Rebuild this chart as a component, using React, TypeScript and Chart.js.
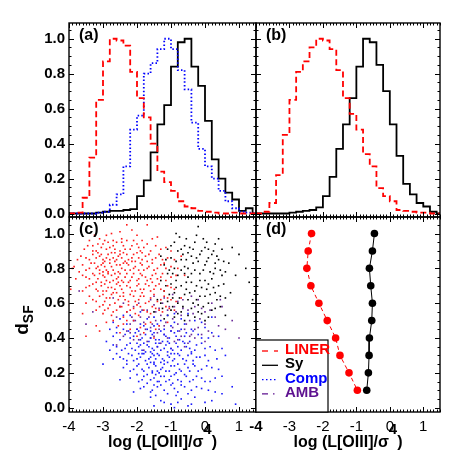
import React, { useEffect, useRef } from 'react';
import { Chart, registerables } from 'chart.js';
Chart.register(...registerables);

const FONT = '"Liberation Sans", Arial, Helvetica, sans-serif';

// ---------- axes ----------
const X_MIN = -4;
const X_MAX = 1.5;
const X_TICKS = [-4, -3, -2, -1, 0, 1];
const Y_TICKS = [0, 0.2, 0.4, 0.6, 0.8, 1.0];
const Y_RANGE_TOP = [-0.02, 1.09];
const Y_RANGE_BOTTOM = [-0.025, 1.095];
const X_TITLE_PARTS = ['log (L[OIII]/\u03c3', '4', ')'];
const Y_TITLE_PARTS = ['d', 'SF'];
const PANEL_LABELS = ['(a)', '(b)', '(c)', '(d)'];

// ---------- series ----------
const SERIES_NAMES = ['LINER', 'Sy', 'Comp', 'AMB'];

// histogram bin edges (log L[OIII]/sigma^4)
const HIST_EDGES = [-4.0, -3.8, -3.6, -3.4, -3.2, -3.0, -2.8, -2.6, -2.4, -2.2, -2.0, -1.8, -1.6, -1.4, -1.2, -1.0,
  -0.8, -0.6, -0.4, -0.2, 0.0, 0.2, 0.4, 0.6, 0.8, 1.0, 1.2, 1.4, 1.6];

// panel (a)
const A_LINER = [0, 0.005, 0.09, 0.32, 0.65, 0.87, 1.0, 0.99, 0.96, 0.81, 0.66, 0.55, 0.40, 0.24, 0.18, 0.13,
  0.07, 0.04, 0.03, 0.015, 0.01, 0.005, 0, 0, 0.005, 0, 0, 0];
const A_COMP = [0, 0, 0, 0, 0.005, 0.01, 0.05, 0.11, 0.27, 0.48, 0.56, 0.80, 0.86, 0.94, 1.0, 0.94,
  0.82, 0.71, 0.52, 0.37, 0.27, 0.20, 0.13, 0.07, 0.03, 0.01, 0.005, 0];
const A_SY = [0, 0, 0, 0, 0.005, 0.01, 0.015, 0.015, 0.02, 0.025, 0.10, 0.19, 0.35, 0.51, 0.62, 0.84,
  0.98, 1.0, 0.84, 0.73, 0.53, 0.31, 0.20, 0.12, 0.08, 0.015, 0.03, 0];

// panel (b)
const B_LINER = [0, 0.01, 0.06, 0.22, 0.45, 0.65, 0.81, 0.87, 0.95, 1.0, 0.99, 0.94, 0.82, 0.66, 0.57, 0.48,
  0.34, 0.27, 0.145, 0.10, 0.07, 0.02, 0.015, 0.01, 0.005, 0.005, 0, 0];
const B_SY = [0, 0, 0, 0, 0, 0.005, 0.01, 0.015, 0.02, 0.035, 0.10, 0.21, 0.37, 0.51, 0.66, 0.84,
  1.0, 0.98, 0.85, 0.70, 0.51, 0.33, 0.17, 0.11, 0.06, 0.04, 0.01, 0];

// panel (c) scatter [x, y]
const C_LINER = [
  [-2.3, 1.05], [-1.7, 1.05], [-2.9, 0.99], [-2.5, 1.01], [-2.0, 0.99], [-3.1, 0.97], [-1.4, 0.98], [-2.7, 0.96],
  [-3.3, 0.93], [-3.0, 0.94], [-2.8, 0.92], [-2.6, 0.95], [-2.4, 0.93], [-2.2, 0.91], [-2.0, 0.94], [-1.8, 0.92],
  [-1.6, 0.90], [-3.2, 0.90], [-2.9, 0.91], [-2.5, 0.90], [-2.3, 0.96], [-1.9, 0.90], [-1.3, 0.91], [-3.4, 0.96],
  [-2.7, 0.93], [-2.1, 0.96], [-3.5, 0.86], [-3.3, 0.88], [-3.1, 0.87], [-3.0, 0.85], [-2.85, 0.88], [-2.7, 0.86],
  [-2.55, 0.87], [-2.4, 0.89], [-2.25, 0.85], [-2.1, 0.88], [-1.95, 0.86], [-1.75, 0.87], [-1.55, 0.85], [-1.35, 0.88],
  [-1.1, 0.86], [-3.15, 0.89], [-2.95, 0.84], [-2.65, 0.89], [-2.35, 0.84], [-2.05, 0.84], [-1.85, 0.89], [-0.9, 0.85],
  [-3.9, 0.80], [-3.6, 0.82], [-3.4, 0.80], [-3.25, 0.83], [-3.1, 0.79], [-2.95, 0.81], [-2.8, 0.83], [-2.7, 0.79],
  [-2.6, 0.82], [-2.45, 0.80], [-2.3, 0.83], [-2.2, 0.79], [-2.05, 0.81], [-1.9, 0.83], [-1.8, 0.79], [-1.65, 0.81],
  [-1.5, 0.79], [-1.3, 0.82], [-1.15, 0.80], [-3.0, 0.78], [-2.55, 0.78], [-2.15, 0.84], [-1.7, 0.84], [-0.8, 0.80],
  [-3.7, 0.78], [-3.5, 0.75], [-3.3, 0.77], [-3.15, 0.74], [-3.0, 0.76], [-2.9, 0.73], [-2.75, 0.76], [-2.6, 0.74],
  [-2.5, 0.77], [-2.35, 0.75], [-2.2, 0.73], [-2.1, 0.77], [-1.95, 0.74], [-1.85, 0.76], [-1.7, 0.73], [-1.55, 0.76],
  [-1.4, 0.74], [-1.25, 0.77], [-1.0, 0.75], [-2.8, 0.72], [-2.4, 0.72], [-3.05, 0.72], [-0.6, 0.76], [-3.8, 0.74],
  [-3.4, 0.70], [-3.2, 0.68], [-3.05, 0.70], [-2.9, 0.67], [-2.75, 0.69], [-2.6, 0.71], [-2.45, 0.68], [-2.3, 0.70],
  [-2.15, 0.67], [-2.0, 0.70], [-1.9, 0.68], [-1.75, 0.71], [-1.6, 0.67], [-1.45, 0.70], [-1.3, 0.68], [-1.1, 0.70],
  [-2.7, 0.66], [-2.25, 0.72], [-1.55, 0.72], [-0.9, 0.68], [-3.6, 0.67], [-3.3, 0.62], [-3.1, 0.64], [-2.95, 0.61],
  [-2.8, 0.63], [-2.65, 0.60], [-2.5, 0.64], [-2.35, 0.62], [-2.2, 0.65], [-2.05, 0.61], [-1.9, 0.64], [-1.75, 0.60],
  [-1.6, 0.63], [-1.4, 0.61], [-1.2, 0.64], [-1.0, 0.62], [-2.6, 0.66], [-1.85, 0.66], [-3.5, 0.60], [-0.7, 0.63],
  [-3.2, 0.56], [-3.0, 0.54], [-2.85, 0.57], [-2.7, 0.55], [-2.5, 0.58], [-2.3, 0.55], [-2.1, 0.57], [-1.95, 0.53],
  [-1.8, 0.56], [-1.6, 0.54], [-1.45, 0.57], [-1.25, 0.55], [-1.05, 0.57], [-2.4, 0.52], [-2.0, 0.59], [-3.0, 0.59],
  [-3.2, 0.47], [-2.7, 0.50], [-2.4, 0.48], [-2.1, 0.50], [-1.9, 0.46], [-1.6, 0.49], [-1.35, 0.47], [-1.1, 0.49],
  [-2.2, 0.45], [-2.0, 0.41], [-1.5, 0.40], [-3.5, 0.41], [-3.85, 0.81], [-3.45, 0.93],
  [-3.25, 0.99], [-2.75, 1.0], [-2.15, 1.02], [-1.55, 0.97], [-1.85, 0.96], [-2.45, 0.97],
  [-3.55, 0.91], [-3.05, 0.92], [-2.85, 0.95], [-2.65, 0.91], [-2.45, 0.95], [-2.15, 0.93], [-1.95, 0.92], [-1.7, 0.94],
  [-1.45, 0.93], [-1.15, 0.92], [-2.35, 0.91], [-2.95, 0.96], [-3.15, 0.94],
  [-3.65, 0.87], [-3.4, 0.85], [-3.2, 0.86], [-3.05, 0.88], [-2.9, 0.86], [-2.75, 0.89], [-2.6, 0.85], [-2.45, 0.86],
  [-2.3, 0.88], [-2.15, 0.86], [-2.0, 0.89], [-1.85, 0.85], [-1.65, 0.88], [-1.45, 0.86], [-1.25, 0.85], [-2.8, 0.85],
  [-2.5, 0.88], [-3.3, 0.90],
  [-3.5, 0.79], [-3.35, 0.83], [-3.2, 0.80], [-3.05, 0.82], [-2.9, 0.79], [-2.75, 0.81], [-2.65, 0.84], [-2.5, 0.82],
  [-2.35, 0.79], [-2.25, 0.82], [-2.1, 0.80], [-1.95, 0.79], [-1.85, 0.82], [-1.7, 0.80], [-1.55, 0.83], [-1.4, 0.80],
  [-1.2, 0.83], [-1.0, 0.81], [-2.85, 0.78], [-2.4, 0.83], [-3.0, 0.83], [-3.15, 0.81],
  [-3.6, 0.76], [-3.4, 0.74], [-3.25, 0.76], [-3.1, 0.77], [-2.95, 0.75], [-2.85, 0.77], [-2.7, 0.73], [-2.55, 0.75],
  [-2.45, 0.73], [-2.3, 0.77], [-2.15, 0.75], [-2.0, 0.73], [-1.9, 0.77], [-1.75, 0.75], [-1.6, 0.74], [-1.45, 0.77],
  [-1.3, 0.75], [-1.15, 0.73], [-0.85, 0.76], [-2.65, 0.77], [-3.2, 0.72],
  [-3.5, 0.69], [-3.3, 0.71], [-3.15, 0.67], [-2.95, 0.71], [-2.85, 0.69], [-2.65, 0.68], [-2.5, 0.70], [-2.4, 0.66],
  [-2.2, 0.69], [-2.05, 0.67], [-1.95, 0.71], [-1.8, 0.68], [-1.65, 0.70], [-1.5, 0.68], [-1.35, 0.71], [-1.2, 0.67],
  [-1.0, 0.69], [-2.55, 0.72], [-3.0, 0.67],
  [-3.4, 0.64], [-3.2, 0.61], [-3.0, 0.65], [-2.9, 0.63], [-2.75, 0.65], [-2.55, 0.62], [-2.4, 0.64], [-2.25, 0.61],
  [-2.1, 0.64], [-1.95, 0.62], [-1.8, 0.64], [-1.65, 0.61], [-1.5, 0.65], [-1.3, 0.62], [-1.1, 0.63], [-0.85, 0.61],
  [-3.1, 0.58], [-2.95, 0.56], [-2.8, 0.59], [-2.6, 0.56], [-2.45, 0.58], [-2.2, 0.56], [-2.05, 0.54], [-1.9, 0.58],
  [-1.7, 0.55], [-1.55, 0.58], [-1.35, 0.56], [-1.15, 0.58], [-2.75, 0.53], [-2.25, 0.59], [-0.9, 0.56],
  [-2.9, 0.49], [-2.55, 0.47], [-2.3, 0.50], [-1.75, 0.48], [-1.45, 0.45], [-2.5, 0.43], [-3.1, 0.44], [-1.8, 0.43],
  [-3.95, 0.68], [-3.75, 0.85], [-3.6, 0.54], [-1.0, 0.90], [-0.7, 0.87],
];
const C_COMP = [
  [-2.4, 0.53], [-1.9, 0.55], [-1.5, 0.52], [-0.9, 0.54], [-0.3, 0.50], [-2.1, 0.50], [0.2, 0.52],
  [-2.6, 0.46], [-2.3, 0.48], [-2.0, 0.45], [-1.8, 0.47], [-1.6, 0.44], [-1.4, 0.48], [-1.2, 0.45], [-1.0, 0.47],
  [-0.8, 0.44], [-0.6, 0.48], [-0.4, 0.45], [0.0, 0.46], [-2.8, 0.45],
  [-2.7, 0.41], [-2.5, 0.39], [-2.35, 0.42], [-2.2, 0.40], [-2.05, 0.43], [-1.9, 0.39], [-1.75, 0.42], [-1.6, 0.40],
  [-1.5, 0.43], [-1.35, 0.39], [-1.2, 0.42], [-1.05, 0.40], [-0.9, 0.43], [-0.75, 0.39], [-0.6, 0.41], [-0.45, 0.38],
  [-0.2, 0.42], [0.1, 0.40], [-2.9, 0.38], [-1.65, 0.38], [-1.1, 0.38], [0.4, 0.41],
  [-2.6, 0.35], [-2.45, 0.33], [-2.3, 0.36], [-2.15, 0.34], [-2.0, 0.37], [-1.85, 0.33], [-1.7, 0.36], [-1.55, 0.34],
  [-1.45, 0.37], [-1.3, 0.33], [-1.15, 0.36], [-1.0, 0.34], [-0.85, 0.37], [-0.7, 0.33], [-0.55, 0.35], [-0.4, 0.32],
  [-0.25, 0.36], [0.0, 0.34], [-1.9, 0.36], [-1.4, 0.35], [-1.6, 0.32], [0.3, 0.33], [-2.8, 0.33],
  [-2.5, 0.29], [-2.3, 0.27], [-2.15, 0.30], [-2.0, 0.28], [-1.85, 0.31], [-1.75, 0.27], [-1.6, 0.29], [-1.5, 0.26],
  [-1.4, 0.31], [-1.25, 0.28], [-1.1, 0.30], [-0.95, 0.27], [-0.8, 0.31], [-0.65, 0.28], [-0.5, 0.30], [-0.35, 0.27],
  [-0.15, 0.29], [0.1, 0.27], [-1.3, 0.26], [-1.95, 0.31], [-0.9, 0.31], [-2.7, 0.28],
  [-2.4, 0.23], [-2.2, 0.21], [-2.0, 0.24], [-1.85, 0.22], [-1.7, 0.25], [-1.55, 0.21], [-1.45, 0.24], [-1.3, 0.22],
  [-1.2, 0.25], [-1.05, 0.21], [-0.9, 0.24], [-0.75, 0.22], [-0.6, 0.25], [-0.45, 0.21], [-0.3, 0.24], [-0.1, 0.22],
  [0.2, 0.23], [-1.35, 0.20], [-1.6, 0.26], [-0.85, 0.20],
  [-2.2, 0.17], [-1.95, 0.15], [-1.8, 0.18], [-1.6, 0.16], [-1.45, 0.19], [-1.35, 0.15], [-1.2, 0.18], [-1.05, 0.16],
  [-0.9, 0.19], [-0.7, 0.15], [-0.55, 0.18], [-0.35, 0.16], [-0.1, 0.17], [0.15, 0.15], [-1.7, 0.14], [0.5, 0.18],
  [-2.5, 0.16], [-1.9, 0.11], [-1.6, 0.09], [-1.4, 0.12], [-1.2, 0.10], [-1.0, 0.13], [-0.8, 0.09], [-0.6, 0.12],
  [-0.4, 0.10], [-0.1, 0.11], [0.3, 0.09], [-1.5, 0.13], [-2.1, 0.09],
  [-1.3, 0.04], [-1.0, 0.02], [-0.7, 0.05], [-0.5, 0.01], [-1.6, 0.06], [0.0, 0.03], [-0.3, 0.06], [0.9, 0.02],
  [-0.9, 0.0], [0.8, 0.12], [0.6, 0.30], [-3.0, 0.25],
  [-2.5, 0.51], [-2.2, 0.53], [-1.7, 0.51], [-1.3, 0.50], [-1.1, 0.53], [-0.7, 0.51], [-0.5, 0.54], [-0.1, 0.49],
  [-1.9, 0.48], [-1.5, 0.47], [-0.9, 0.49], [-2.7, 0.49],
  [-2.6, 0.43], [-2.4, 0.45], [-2.25, 0.44], [-2.1, 0.41], [-1.95, 0.44], [-1.85, 0.40], [-1.7, 0.45], [-1.55, 0.42],
  [-1.45, 0.39], [-1.3, 0.44], [-1.15, 0.41], [-1.0, 0.44], [-0.85, 0.41], [-0.7, 0.45], [-0.55, 0.43], [-0.35, 0.44],
  [-0.1, 0.40], [0.2, 0.43], [-1.25, 0.38], [-0.65, 0.38],
  [-2.7, 0.36], [-2.35, 0.34], [-2.2, 0.37], [-2.05, 0.33], [-1.95, 0.35], [-1.8, 0.37], [-1.65, 0.35], [-1.5, 0.33],
  [-1.35, 0.37], [-1.2, 0.34], [-1.05, 0.37], [-0.95, 0.33], [-0.8, 0.35], [-0.6, 0.37], [-0.45, 0.34], [-0.3, 0.33],
  [-0.1, 0.37], [0.15, 0.35], [0.5, 0.34], [-1.75, 0.32], [-1.1, 0.32],
  [-2.6, 0.31], [-2.4, 0.28], [-2.25, 0.31], [-2.1, 0.27], [-1.9, 0.29], [-1.8, 0.31], [-1.65, 0.28], [-1.55, 0.31],
  [-1.45, 0.28], [-1.35, 0.30], [-1.2, 0.27], [-1.05, 0.29], [-0.9, 0.28], [-0.75, 0.30], [-0.55, 0.27], [-0.4, 0.31],
  [-0.25, 0.29], [0.0, 0.30], [0.35, 0.28], [-1.5, 0.30], [-1.0, 0.31],
  [-2.3, 0.25], [-2.1, 0.22], [-1.95, 0.25], [-1.8, 0.21], [-1.65, 0.23], [-1.5, 0.25], [-1.4, 0.21], [-1.25, 0.23],
  [-1.15, 0.21], [-1.0, 0.24], [-0.8, 0.25], [-0.7, 0.21], [-0.5, 0.23], [-0.35, 0.25], [-0.2, 0.21], [0.05, 0.24],
  [0.4, 0.22], [-1.55, 0.20], [-1.1, 0.26],
  [-2.0, 0.19], [-1.85, 0.16], [-1.7, 0.19], [-1.5, 0.17], [-1.3, 0.18], [-1.15, 0.15], [-1.0, 0.18], [-0.8, 0.16],
  [-0.6, 0.19], [-0.45, 0.15], [-0.25, 0.18], [0.0, 0.15], [0.3, 0.17], [-1.4, 0.15], [-0.95, 0.14],
  [-1.8, 0.12], [-1.55, 0.10], [-1.3, 0.13], [-1.1, 0.08], [-0.9, 0.11], [-0.7, 0.13], [-0.5, 0.08], [-0.25, 0.12],
  [0.1, 0.10], [-1.45, 0.07], [-0.85, 0.07], [0.5, 0.08],
  [-1.2, 0.03], [-0.8, 0.03], [-0.4, 0.02], [0.2, 0.04], [-1.5, 0.01],
];
const C_SY = [
  [-0.2, 1.04], [-0.9, 0.95], [-0.6, 0.93], [-0.3, 0.95], [0.0, 0.92], [0.3, 0.94], [-1.1, 0.91], [-0.8, 0.90],
  [-0.5, 0.89], [-0.1, 0.90], [0.2, 0.88], [0.5, 0.91], [1.0, 0.88], [-1.3, 0.87], [-1.0, 0.86], [-0.7, 0.85],
  [-0.4, 0.87], [-0.2, 0.84], [0.1, 0.86], [0.4, 0.85], [-1.2, 0.82], [-0.9, 0.80], [-0.6, 0.81], [-0.3, 0.79],
  [0.0, 0.82], [0.3, 0.80], [0.6, 0.78], [-1.1, 0.77], [-0.8, 0.76], [-0.5, 0.75], [-0.15, 0.77], [0.2, 0.74],
  [0.5, 0.76], [1.3, 0.72], [-1.3, 0.73], [-1.0, 0.71], [-0.7, 0.70], [-0.4, 0.72], [-0.1, 0.69], [0.1, 0.71],
  [0.4, 0.70], [-1.2, 0.67], [-0.9, 0.66], [-0.6, 0.65], [-0.3, 0.67], [0.0, 0.64], [0.3, 0.66], [0.6, 0.63],
  [1.4, 0.62], [-1.4, 0.62], [-1.1, 0.61], [-0.8, 0.60], [-0.5, 0.62], [-0.2, 0.59], [0.1, 0.60], [-1.0, 0.56],
  [-0.7, 0.55], [-0.4, 0.57], [-0.1, 0.54], [0.2, 0.56], [-1.5, 0.55], [-0.9, 0.52], [-0.6, 0.50], [-0.3, 0.52],
  [0.0, 0.50], [-1.2, 0.51], [-0.45, 0.92], [-0.75, 0.98], [-0.05, 0.97], [0.15, 0.78], [-0.55, 0.68], [-0.25, 0.62],
  [0.45, 0.58], [-0.85, 0.73], [-1.05, 0.79], [0.7, 0.83], [-0.35, 0.83], [-0.65, 0.88], [0.25, 0.90], [-0.15, 0.73],
  [-1.25, 0.57], [0.05, 0.68], [-0.95, 0.63], [0.35, 0.62], [-0.5, 0.80],
  [-0.85, 1.0], [-0.55, 0.97], [-0.25, 0.99], [0.05, 0.95], [0.4, 0.97], [-1.0, 0.93], [-0.7, 0.91], [-0.35, 0.91],
  [-0.15, 0.88], [0.1, 0.91], [0.35, 0.87], [0.8, 0.92], [-1.15, 0.85], [-0.85, 0.84], [-0.55, 0.85], [-0.25, 0.86],
  [0.05, 0.84], [0.3, 0.83], [0.55, 0.84], [-0.95, 0.77], [-0.7, 0.79], [-0.4, 0.77], [-0.05, 0.79], [0.25, 0.77],
  [0.45, 0.79], [0.9, 0.76], [-1.15, 0.70], [-0.85, 0.69], [-0.55, 0.72], [-0.25, 0.70], [0.0, 0.73], [0.25, 0.69],
  [0.55, 0.71], [-1.05, 0.65], [-0.75, 0.63], [-0.45, 0.66], [-0.15, 0.64], [0.15, 0.65], [0.45, 0.64], [-1.3, 0.60],
  [-0.95, 0.58], [-0.65, 0.58], [-0.35, 0.60], [-0.05, 0.58], [0.3, 0.57], [-0.8, 0.54], [-0.5, 0.53], [-0.2, 0.55],
  [0.1, 0.52], [-1.1, 0.53], [0.6, 0.53], [1.2, 0.80], [0.75, 0.66], [-0.6, 0.77],
];
const C_AMB = [
  [-3.7, 0.67], [-3.5, 0.48], [-2.3, 0.55], [-2.1, 0.58], [-1.9, 0.52], [-1.7, 0.56], [-1.5, 0.59], [-1.3, 0.53],
  [-1.1, 0.56], [-0.9, 0.58], [-0.7, 0.53], [-0.5, 0.56], [-0.3, 0.58], [0.0, 0.55], [0.3, 0.52], [-2.2, 0.48],
  [-2.0, 0.45], [-1.8, 0.49], [-1.6, 0.46], [-1.4, 0.43], [-1.2, 0.47], [-1.0, 0.44], [-0.8, 0.48], [-0.6, 0.45],
  [-0.4, 0.42], [-0.2, 0.46], [0.1, 0.44], [0.4, 0.47], [-2.4, 0.41], [-2.1, 0.39], [-1.9, 0.42], [-1.7, 0.38],
  [-1.5, 0.41], [-1.3, 0.37], [-1.1, 0.40], [-0.9, 0.38], [-0.7, 0.41], [-0.5, 0.37], [-0.3, 0.40], [-1.6, 0.62],
  [-1.2, 0.63], [-0.8, 0.61], [-0.4, 0.64], [0.2, 0.60], [0.5, 0.58], [-2.5, 0.58], [-1.95, 0.60], [-1.45, 0.50],
  [-0.95, 0.51], [-0.45, 0.50], [-2.6, 0.52], [0.0, 0.38], [1.0, 0.40], [0.6, 0.45], [-1.0, 0.34], [-1.8, 0.33],
  [-2.3, 0.44], [-0.15, 0.51], [-1.35, 0.57], [-0.65, 0.62],
  [-2.4, 0.60], [-2.15, 0.52], [-1.85, 0.56], [-1.65, 0.52], [-1.45, 0.55], [-1.25, 0.60], [-1.05, 0.58], [-0.85, 0.55],
  [-0.65, 0.57], [-0.35, 0.54], [-0.1, 0.57], [0.15, 0.56], [-2.05, 0.50], [-1.75, 0.45], [-1.55, 0.48], [-1.35, 0.45],
  [-1.15, 0.49], [-0.95, 0.46], [-0.75, 0.44], [-0.55, 0.48], [-0.3, 0.45], [0.0, 0.48], [0.25, 0.41], [-2.2, 0.43],
  [-1.95, 0.39], [-1.6, 0.40], [-1.2, 0.42], [-0.8, 0.39], [-0.45, 0.41], [-0.1, 0.42], [-1.5, 0.64], [-0.95, 0.65],
  [-0.2, 0.62], [0.45, 0.62], [-2.7, 0.63], [-3.3, 0.55], [0.8, 0.50], [-1.4, 0.35], [-0.6, 0.35], [-2.6, 0.36],
];

// panel (d): median log(L/sigma^4) in d_SF bins
const D_DSF = [1.0, 0.9, 0.8, 0.7, 0.6, 0.5, 0.4, 0.3, 0.2, 0.1];
const D_LINER = [-2.34, -2.44, -2.48, -2.36, -2.12, -1.87, -1.62, -1.49, -1.22, -0.97];
const D_SY = [-0.46, -0.52, -0.61, -0.57, -0.52, -0.54, -0.61, -0.62, -0.64, -0.69];

// ---------- styles ----------
const RED = '#ff0000';
const BLACK = '#000000';
const BLUE = '#0000ff';
const PURPLE = '#5e1290';
const SERIES_STYLE = [
  { color: RED, dash: [6, 6] },
  { color: BLACK, dash: [] },
  { color: BLUE, dash: [1.5, 2.5] },
  { color: PURPLE, dash: [6, 5, 1.5, 5] },
];

const W = 463;
const H = 463;

function histData(vals: number[]) {
  const pts = vals.map((v, i) => ({ x: HIST_EDGES[i], y: v }));
  pts.push({ x: HIST_EDGES[vals.length], y: vals[vals.length - 1] });
  return pts;
}

function histDs(vals: number[], color: string, dash: number[], width: number) {
  return {
    data: histData(vals),
    showLine: true,
    stepped: true,
    borderColor: color,
    borderWidth: width,
    borderDash: dash,
    pointRadius: 0,
    fill: false,
  };
}

function scatterDs(pts: number[][], color: string) {
  return {
    data: pts.map((p) => ({ x: p[0], y: p[1] })),
    showLine: false,
    pointStyle: 'rect',
    pointRadius: 1.15,
    pointBorderWidth: 0,
    pointBackgroundColor: color,
    borderColor: color,
  };
}

function lineDs(xs: number[], ys: number[], color: string, dash: number[]) {
  return {
    data: xs.map((x, i) => ({ x, y: ys[i] })),
    showLine: true,
    borderColor: color,
    borderWidth: 1,
    borderDash: dash,
    pointRadius: 3.8,
    pointBorderWidth: 0,
    pointBackgroundColor: color,
  };
}

type Panel = {
  left: number; right: number; top: number; bottom: number;
  yRange: number[]; showX: boolean; showY: boolean; label: string;
  boldFirstX?: boolean; xTitle?: boolean; yTitle?: boolean; legend?: boolean;
};

function drawXTitle(ctx: CanvasRenderingContext2D, cx: number) {
  ctx.save();
  ctx.fillStyle = '#000';
  ctx.textBaseline = 'alphabetic';
  ctx.textAlign = 'left';
  ctx.font = `bold 16px ${FONT}`;
  const w1 = ctx.measureText(X_TITLE_PARTS[0]).width;
  const w3 = ctx.measureText(X_TITLE_PARTS[2]).width;
  ctx.font = `bold 15px ${FONT}`;
  const w2 = ctx.measureText(X_TITLE_PARTS[1]).width;
  const x0 = cx - (w1 + w2 + w3) / 2;
  const base = 447;
  ctx.font = `bold 16px ${FONT}`;
  ctx.fillText(X_TITLE_PARTS[0], x0, base);
  ctx.fillText(X_TITLE_PARTS[2], x0 + w1 + w2, base);
  ctx.font = `bold 15px ${FONT}`;
  ctx.fillText(X_TITLE_PARTS[1], x0 + w1, base - 13);
  ctx.restore();
}

function drawYTitle(ctx: CanvasRenderingContext2D) {
  ctx.save();
  ctx.fillStyle = '#000';
  ctx.textBaseline = 'alphabetic';
  ctx.textAlign = 'left';
  ctx.translate(28, 320);
  ctx.rotate(-Math.PI / 2);
  ctx.font = `bold 19px ${FONT}`;
  const w1 = ctx.measureText(Y_TITLE_PARTS[0]).width;
  ctx.font = `bold 14px ${FONT}`;
  const w2 = ctx.measureText(Y_TITLE_PARTS[1]).width;
  const s = -(w1 + w2) / 2;
  ctx.font = `bold 19px ${FONT}`;
  ctx.fillText(Y_TITLE_PARTS[0], s, 0);
  ctx.font = `bold 14px ${FONT}`;
  ctx.fillText(Y_TITLE_PARTS[1], s + w1, 5);
  ctx.restore();
}

function drawLegend(ctx: CanvasRenderingContext2D, a: any) {
  ctx.save();
  const bx = a.left, by = 340, bw = 72, bh = a.bottom - 340;
  ctx.fillStyle = '#fff';
  ctx.fillRect(bx, by, bw, bh);
  ctx.strokeStyle = '#000';
  ctx.lineWidth = 1.2;
  ctx.strokeRect(bx, by, bw, bh);
  ctx.font = `bold 15px ${FONT}`;
  ctx.textBaseline = 'middle';
  ctx.textAlign = 'left';
  SERIES_NAMES.forEach((name, i) => {
    const y = by + 10 + i * 14.3;
    const st = SERIES_STYLE[i];
    ctx.strokeStyle = st.color;
    ctx.lineWidth = 1.3;
    ctx.setLineDash(st.dash);
    ctx.beginPath();
    ctx.moveTo(bx + 6, y + 1);
    ctx.lineTo(bx + 22, y + 1);
    ctx.stroke();
    ctx.setLineDash([]);
    ctx.fillStyle = st.color;
    ctx.fillText(name, bx + 29, y);
  });
  ctx.restore();
}

function makePlugin(p: Panel) {
  return {
    id: 'frameTicks',
    afterDatasetsDraw(chart: any) {
      const { ctx, chartArea: a, scales } = chart;
      const xs = scales.x;
      const ys = scales.y;
      ctx.save();
      ctx.strokeStyle = '#000';
      ctx.lineWidth = 1;
      ctx.setLineDash([]);
      ctx.beginPath();
      // x ticks (minor every 0.1, major each integer)
      for (let k = 0; k <= 55; k++) {
        const v = X_MIN + k * 0.1;
        const px = Math.round(xs.getPixelForValue(v)) + 0.5;
        const len = k % 10 === 0 ? 5 : 2.5;
        ctx.moveTo(px, a.bottom); ctx.lineTo(px, a.bottom - len);
        ctx.moveTo(px, a.top); ctx.lineTo(px, a.top + len);
      }
      // y ticks (minor every 0.05, major every 0.2)
      for (let k = 0; k <= 21; k++) {
        const v = k * 0.05;
        const py = Math.round(ys.getPixelForValue(v)) + 0.5;
        const len = k % 4 === 0 ? 5 : 2.5;
        ctx.moveTo(a.left, py); ctx.lineTo(a.left + len, py);
        ctx.moveTo(a.right, py); ctx.lineTo(a.right - len, py);
      }
      ctx.stroke();
      ctx.lineWidth = 1.4;
      ctx.strokeRect(a.left, a.top, a.right - a.left, a.bottom - a.top);
      ctx.fillStyle = '#000';
      ctx.font = `bold 16px ${FONT}`;
      ctx.textBaseline = 'alphabetic';
      ctx.textAlign = 'left';
      ctx.fillText(p.label, a.left + 10, a.top + 16.5);
      if (p.legend) drawLegend(ctx, a);
      if (p.xTitle) drawXTitle(ctx, (a.left + a.right) / 2);
      if (p.yTitle) drawYTitle(ctx);
      ctx.restore();
    },
  };
}

function buildConfig(p: Panel, datasets: any[]) {
  return {
    type: 'scatter',
    data: { datasets },
    options: {
      animation: false,
      responsive: false,
      events: [],
      layout: { padding: { left: 0, top: p.top, right: W - p.right, bottom: 0 }, autoPadding: false },
      plugins: { legend: { display: false }, tooltip: { enabled: false }, title: { display: false } },
      scales: {
        x: {
          type: 'linear',
          position: 'bottom',
          min: X_MIN,
          max: X_MAX,
          afterFit: (s: any) => { s.height = H - p.bottom; },
          afterBuildTicks: (s: any) => { s.ticks = X_TICKS.map((v) => ({ value: v })); },
          grid: { display: false, drawTicks: false },
          border: { display: false },
          ticks: {
            display: p.showX,
            padding: 6,
            color: '#000',
            autoSkip: false,
            maxRotation: 0,
            font: (c: any) => ({
              family: FONT,
              size: 15,
              weight: p.boldFirstX && c.tick && c.tick.value === X_MIN ? 'bold' : 'normal',
            }),
            callback: (v: any) => String(v),
          },
        },
        y: {
          type: 'linear',
          position: 'left',
          min: p.yRange[0],
          max: p.yRange[1],
          afterFit: (s: any) => { s.width = p.left; },
          afterBuildTicks: (s: any) => { s.ticks = Y_TICKS.map((v) => ({ value: v })); },
          grid: { display: false, drawTicks: false },
          border: { display: false },
          ticks: {
            display: p.showY,
            padding: 4,
            color: '#000',
            font: { family: FONT, size: 15, weight: 'bold' },
            callback: (v: any) => Number(v).toFixed(1),
          },
        },
      },
    },
    plugins: [makePlugin(p)],
  };
}

const PANELS: Panel[] = [
  { left: 69, right: 256, top: 23, bottom: 217, yRange: Y_RANGE_TOP, showX: false, showY: true, label: PANEL_LABELS[0] },
  { left: 256, right: 440, top: 23, bottom: 217, yRange: Y_RANGE_TOP, showX: false, showY: false, label: PANEL_LABELS[1] },
  { left: 69, right: 256, top: 217, bottom: 412, yRange: Y_RANGE_BOTTOM, showX: true, showY: true, label: PANEL_LABELS[2], xTitle: true, yTitle: true },
  { left: 256, right: 440, top: 217, bottom: 412, yRange: Y_RANGE_BOTTOM, showX: true, showY: false, label: PANEL_LABELS[3], xTitle: true, boldFirstX: true, legend: true },
];

function panelDatasets(i: number) {
  if (i === 0) {
    return [
      histDs(A_LINER, RED, [6, 3.5], 1.8),
      histDs(A_COMP, BLUE, [1.5, 2.2], 1.8),
      histDs(A_SY, BLACK, [], 1.8),
    ];
  }
  if (i === 1) {
    return [
      histDs(B_LINER, RED, [6, 3.5], 1.8),
      histDs(B_SY, BLACK, [], 1.8),
    ];
  }
  if (i === 2) {
    return [
      scatterDs(C_LINER, '#ff1a1a'),
      scatterDs(C_COMP, '#1a1aff'),
      scatterDs(C_SY, BLACK),
      scatterDs(C_AMB, '#6a2a9a'),
    ];
  }
  return [
    lineDs(D_LINER, D_DSF, RED, [4, 3]),
    lineDs(D_SY, D_DSF, BLACK, []),
  ];
}

function PanelCanvas({ index }: { index: number }) {
  const ref = useRef<HTMLCanvasElement | null>(null);
  useEffect(() => {
    if (!ref.current) return;
    const chart = new Chart(ref.current, buildConfig(PANELS[index], panelDatasets(index)) as any);
    return () => chart.destroy();
  }, [index]);
  return (
    <canvas
      ref={ref}
      width={W}
      height={H}
      style={{ position: 'absolute', left: 0, top: 0, width: W, height: H }}
    />
  );
}

export default function App() {
  return (
    <div style={{ position: 'absolute', left: 0, top: 0, width: W, height: H, background: '#fff' }}>
      {PANELS.map((_, i) => (
        <PanelCanvas key={i} index={i} />
      ))}
    </div>
  );
}
